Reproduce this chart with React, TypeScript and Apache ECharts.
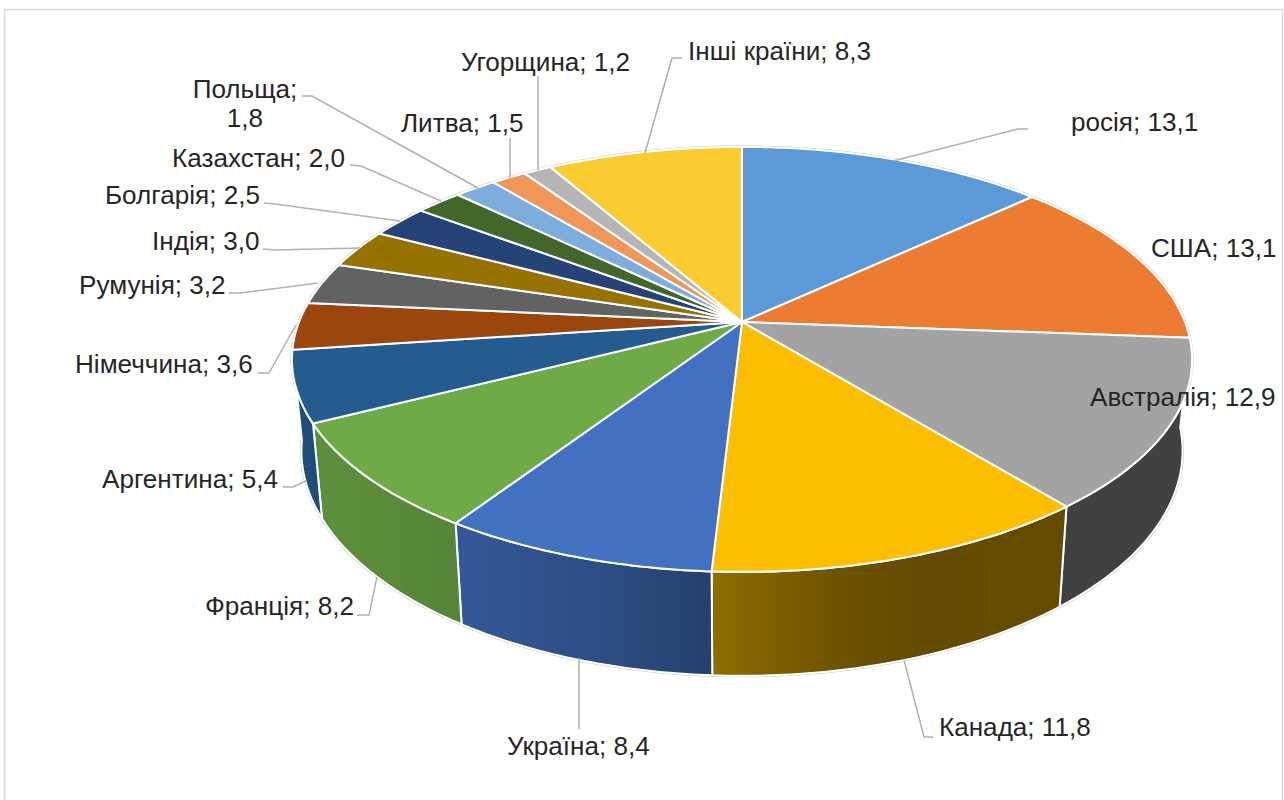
import React, { useEffect, useRef } from "react";
import * as echarts from "echarts";

const categories = ["росія", "США", "Австралія", "Канада", "Україна", "Франція", "Аргентина", "Німеччина", "Румунія", "Індія", "Болгарія", "Казахстан", "Польща", "Литва", "Угорщина", "Інші країни"];
const values = [13.1, 13.1, 12.9, 11.8, 8.4, 8.2, 5.4, 3.6, 3.2, 3.0, 2.5, 2.0, 1.8, 1.5, 1.2, 8.3];
const colors = ["#5B9AD6", "#EB7C31", "#A3A3A3", "#FCBE00", "#4371C2", "#6EAB47", "#255C90", "#9A460D", "#626262", "#977200", "#254377", "#43662B", "#7CADDC", "#EF9659", "#B5B5B5", "#FBCC2F"];

// label layout: [left x, centre y] in page pixels
const labelSpots: number[][] = [[1071, 122], [1151, 248], [1090, 397], [939, 727], [507, 746], [205, 606], [102, 479], [75, 364], [79, 285], [152, 241], [105, 195], [172, 158], [245, 103], [401, 123], [461, 62], [688, 51]];
const leaders: number[][][] = [
  [[1028, 129], [1018, 129], [893, 161]],
  [],
  [],
  [[933, 737], [924, 737], [904, 660]],
  [[579, 729], [579, 658]],
  [[357, 615], [369, 615], [377, 577]],
  [[283, 487], [293, 487], [306, 481]],
  [[258, 373], [269, 373], [296, 325]],
  [[229, 293], [240, 293], [318, 283]],
  [[263, 249], [275, 250], [360, 248]],
  [[264, 203], [275, 204], [400, 221]],
  [[350, 165], [361, 166], [441, 201]],
  [[302, 96], [312, 96], [478, 188]],
  [[510, 138], [510, 178]],
  [[538, 76], [538, 170]],
  [[682, 58], [672, 58], [645, 153]],
];
// wall brightness across the page
const wallShade: number[][] = [[292, 0.85], [460, 0.78], [600, 0.68], [713, 0.57], [850, 0.42], [930, 0.39], [1192, 0.4]];

const CX = 742, CY = 322, A = 205.9, B = 443, K = -0.176;
const LOW_X = 0.979, LOW_Y = 1.06, LOW_CY = 411;
const total = values.reduce((a, b) => a + b, 0);
const starts: number[] = [];
values.reduce((acc, v, i) => { starts[i] = acc; return acc + v; }, 0);

function topPoint(pct: number) {
  const t = (pct / total) * Math.PI * 2;
  const v = Math.sin(t), u = -Math.cos(t), d = 1 + K * u;
  return [CX + (B * v) / d, CY + (A * u) / d];
}
function lowPoint(p: number[]) {
  return [CX + LOW_X * (p[0] - CX), LOW_CY + LOW_Y * (p[1] - CY)];
}
function arc(i: number) {
  const n = Math.max(6, Math.ceil(values[i] * 5));
  const pts: number[][] = [];
  for (let k = 0; k <= n; k++) pts.push(topPoint(starts[i] + (values[i] * k) / n));
  return pts;
}
function faces(i: number) {
  const mid = ((starts[i] + values[i] / 2) / total) * Math.PI * 2;
  return -Math.cos(mid) > 0.1;
}
function shadeAt(x: number) {
  const s = wallShade;
  if (x <= s[0][0]) return s[0][1];
  for (let i = 1; i < s.length; i++) {
    if (x <= s[i][0]) {
      const f = (x - s[i - 1][0]) / (s[i][0] - s[i - 1][0]);
      return s[i - 1][1] + f * (s[i][1] - s[i - 1][1]);
    }
  }
  return s[s.length - 1][1];
}
function shade(hex: string, f: number) {
  const n = parseInt(hex.slice(1), 16);
  const c = [(n >> 16) & 255, (n >> 8) & 255, n & 255].map((q) => Math.round(q * f));
  return `rgb(${c[0]},${c[1]},${c[2]})`;
}
const seriesData = categories.map((name, i) => ({ name, value: values[i] }));
const fmt = (v: number) => v.toFixed(1).replace(".", ",");

export default function App() {
  const ref = useRef<HTMLDivElement>(null);
  useEffect(() => {
    document.body.style.margin = "0";
    const chart = echarts.init(ref.current!, undefined, { renderer: "svg" });
    const outlineItem = (p: any) => {
      const a = arc(p.dataIndex);
      const children: any[] = [
        { type: "polyline", shape: { points: a }, style: { fill: "none", stroke: "#c9c9c9", lineWidth: 3 } },
      ];
      if (faces(p.dataIndex)) {
        children.push({ type: "polyline", shape: { points: a.map(lowPoint) }, style: { fill: "none", stroke: "#c9c9c9", lineWidth: 3 } });
      }
      return { type: "group", children };
    };
    const wallItem = (p: any) => {
      const i = p.dataIndex;
      if (!faces(i)) return null;
      const a = arc(i);
      const low = a.map(lowPoint).reverse();
      const pts = a.concat(low);
      const xs = pts.map((q) => q[0]);
      const x0 = Math.min(...xs), x1 = Math.max(...xs);
      const stops = [0, 0.2, 0.4, 0.6, 0.8, 1].map((o) => ({ offset: o, color: shade(colors[i], shadeAt(x0 + o * (x1 - x0))) }));
      return {
        type: "polygon",
        shape: { points: pts },
        style: {
          fill: new echarts.graphic.LinearGradient(x0, 0, x1, 0, stops, true),
          stroke: "#ffffff",
          lineWidth: 2,
          lineJoin: "round",
        },
      };
    };
    const topItem = (p: any) => {
      const i = p.dataIndex;
      const pts = [[CX, CY] as number[]].concat(arc(i));
      return {
        type: "polygon",
        shape: { points: pts },
        style: { fill: colors[i], stroke: "#ffffff", lineWidth: 2, lineJoin: "round" },
      };
    };
    const labelItem = (p: any) => {
      const i = p.dataIndex;
      const wrapped = categories[i] === "Польща";
      const text = wrapped ? `${categories[i]};\n${fmt(values[i])}` : `${categories[i]}; ${fmt(values[i])}`;
      const children: any[] = [];
      if (leaders[i].length) {
        children.push({ type: "polyline", shape: { points: leaders[i] }, style: { fill: "none", stroke: "#b0b0b0", lineWidth: 1.5 } });
      }
      children.push({
        type: "text",
        x: labelSpots[i][0],
        y: labelSpots[i][1],
        style: {
          text,
          fill: "#262626",
          font: "26.1px 'Liberation Sans'",
          lineHeight: 29,
          align: wrapped ? "center" : "left",
          verticalAlign: "middle",
        },
      });
      return { type: "group", children };
    };
    const base = { type: "custom", coordinateSystem: "none", silent: true, data: seriesData, clip: false };
    chart.setOption({
      animation: false,
      backgroundColor: "#ffffff",
      graphic: [
        {
          type: "rect",
          z: -1,
          shape: { x: 4.5, y: 9.5, width: 1278, height: 800 },
          style: { fill: "#ffffff", stroke: "#d9d9d9", lineWidth: 1.5 },
          silent: true,
        },
      ],
      series: [
        { ...base, name: "outline", z: 1, renderItem: outlineItem },
        { ...base, name: "walls", z: 2, renderItem: wallItem },
        { ...base, name: "tops", z: 3, renderItem: topItem },
        { ...base, name: "labels", z: 4, renderItem: labelItem },
      ],
    });
    return () => chart.dispose();
  }, []);
  return <div ref={ref} style={{ position: "absolute", left: 0, top: 0, width: 1284, height: 800 }} />;
}
